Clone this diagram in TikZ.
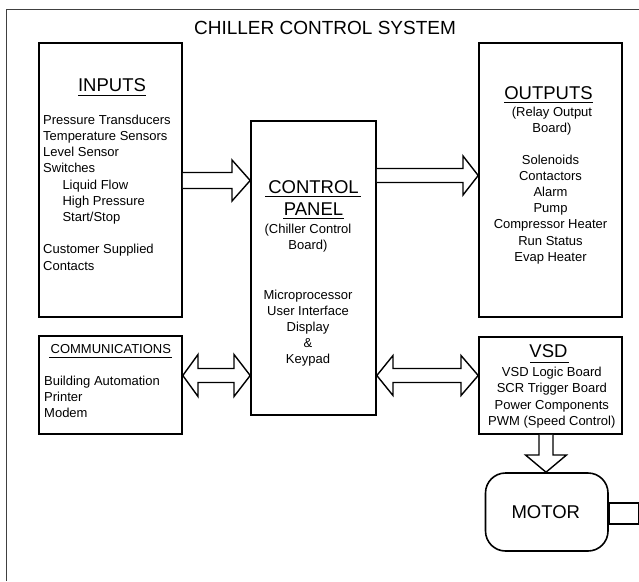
\documentclass[tikz,border=0pt]{standalone}
\usepackage{fontspec}
\setmainfont{Liberation Sans}
\begin{document}
\begin{tikzpicture}[x=1pt,y=-1pt,
  box/.style={draw=black,line width=1.6pt,fill=white,inner sep=0pt},
  blk/.style={draw=black,line width=1.4pt,fill=white,line join=miter},
  item/.style={font=\fontsize{13}{15}\selectfont,inner sep=0pt},
  head/.style={font=\fontsize{18.5}{21}\selectfont,inner sep=0pt},
  uline/.style={line width=0.9pt},
  frame/.style={draw=black!75,line width=0.8pt}]
\useasboundingbox (0,0) rectangle (639,581);
% outer frame
\draw[frame] (6,581) -- (6,9) -- (639,9);
\node[font=\fontsize{19}{22}\selectfont,inner sep=0pt,anchor=base] (title) at (325,34.7) {CHILLER CONTROL SYSTEM};
% boxes
\node[box,minimum width=143pt,minimum height=274pt] (inputs) at (110.5,180) {};
\node[box,minimum width=125pt,minimum height=294pt] (panel) at (313.5,268) {};
\node[box,minimum width=143pt,minimum height=274pt] (outputs) at (550.5,180) {};
\node[box,minimum width=143pt,minimum height=98pt] (comms) at (110.5,385) {};
\node[box,minimum width=143pt,minimum height=97pt] (vsd) at (550.5,385.5) {};
\node[box,rounded corners=20pt,minimum width=122.5pt,minimum height=78pt] (motor) at (546.75,512) {};
\node[box,minimum width=29pt,minimum height=21pt,anchor=west] (shaft) at (motor.east |- 0,513.5) {};
% INPUTS
\node[head,anchor=base] (inh) at (112,91.7) {INPUTS};
\draw[uline] (78,95.9) -- (146,95.9);
\foreach \t/\x/\b [count=\i] in {{Pressure Transducers}/43/124.3,{Temperature Sensors}/43/140.5,{Level Sensor}/43/156.7,{Switches}/43/172.9,{Liquid Flow}/62.3/189.1,{High Pressure}/62.3/205.3,{Start/Stop}/62.3/221.5,{Customer Supplied}/43/253.9,{Contacts}/43/270.1}
  \node[item,anchor=base west] (in\i) at (\x,\b) {\t};
% CONTROL PANEL
\node[head,anchor=base] (cph1) at (313.5,193.3) {CONTROL};
\draw[uline] (265,196.5) -- (361,196.5);
\node[head,anchor=base] (cph2) at (313.5,215.7) {PANEL};
\draw[uline] (283,218.6) -- (344,218.6);
\foreach \t/\b [count=\i] in {{(Chiller Control}/233,{Board)}/249,{Microprocessor}/299,{User Interface}/315,{Display}/331,{\&}/347,{Keypad}/363}
  \node[item,anchor=base] (cp\i) at (308,\b) {\t};
% OUTPUTS
\node[head,anchor=base] (outh) at (548.5,99) {OUTPUTS};
\draw[uline] (504,102.7) -- (593,102.7);
\node[item,anchor=base] (out0a) at (552,116.5) {(Relay Output};
\node[item,anchor=base] (out0b) at (552,132.7) {Board)};
\foreach \t/\b [count=\i] in {{Solenoids}/164,{Contactors}/180.2,{Alarm}/196.4,{Pump}/212.6,{Compressor Heater}/228.8,{Run Status}/245,{Evap Heater}/261.2}
  \node[item,anchor=base] (out\i) at (550.5,\b) {\t};
% COMMUNICATIONS
\node[item,anchor=base] (comh) at (110.8,353.3) {COMMUNICATIONS};
\draw[uline] (49.3,357.8) -- (172.3,357.8);
\foreach \t/\b [count=\i] in {{Building Automation}/385,{Printer}/401.3,{Modem}/417.6}
  \node[item,anchor=base west] (com\i) at (44,\b) {\t};
% VSD
\node[head,anchor=base] (vsdh) at (548.5,357.7) {VSD};
\draw[uline] (530,362.3) -- (569,362.3);
\foreach \t/\b [count=\i] in {{VSD Logic Board}/376.5,{SCR Trigger Board}/392.8,{Power Components}/409.1,{PWM (Speed Control)}/425.4}
  \node[item,anchor=base] (vsd\i) at (551.8,\b) {\t};
% MOTOR
\node[head,anchor=base] (motort) at (545.8,518.3) {MOTOR};
% arrows
\draw[blk] (inputs.east |- 0,172.5) -- (232,172.5) -- (232,160) -- (panel.west |- 0,180.5) -- (232,201) -- (232,188.5) -- (inputs.east |- 0,188.5);
\draw[blk] (panel.east |- 0,168.5) -- (463,168.5) -- (463,156) -- (outputs.west |- 0,175.5) -- (463,195) -- (463,182.5) -- (panel.east |- 0,182.5);
\draw[blk] (comms.east |- 0,375.5) -- (198,354.5) -- (198,368.5) -- (234,368.5) -- (234,354.5) -- (panel.west |- 0,375.5) -- (234,396.5) -- (234,382.5) -- (198,382.5) -- (198,396.5) -- cycle;
\draw[blk] (panel.east |- 0,375.5) -- (393,355.5) -- (393,368.5) -- (461,368.5) -- (461,355.5) -- (vsd.west |- 0,375.5) -- (461,395.5) -- (461,382.5) -- (393,382.5) -- (393,395.5) -- cycle;
\draw[blk] (vsd.south -| 539,0) -- (539,455) -- (525.5,455) -- (motor.north -| 546,0) -- (566.5,455) -- (553,455) -- (vsd.south -| 553,0);
\end{tikzpicture}
\end{document}
